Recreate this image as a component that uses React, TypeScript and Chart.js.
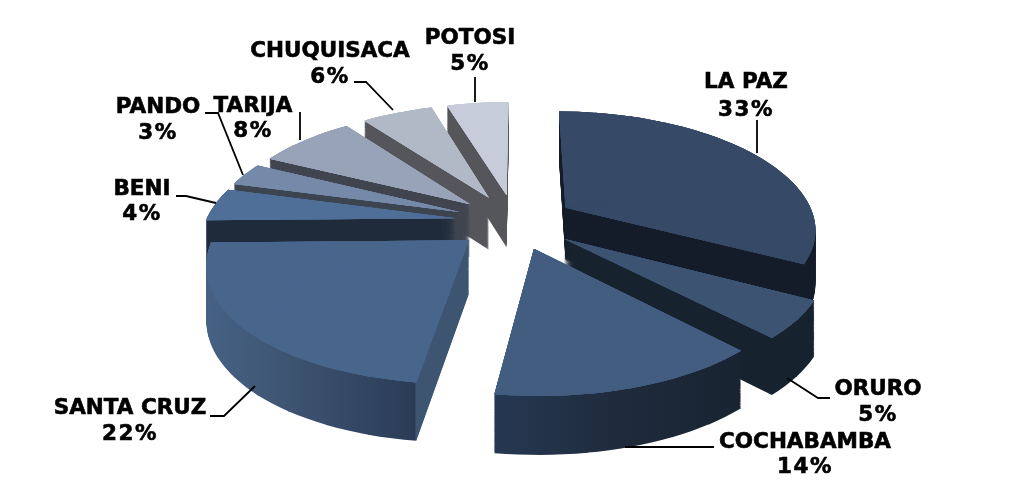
import React, { useEffect, useRef } from "react";
import { Chart, registerables } from "chart.js";

Chart.register(...registerables);

const categories = ["LA PAZ", "ORURO", "COCHABAMBA", "SANTA CRUZ", "BENI", "PANDO", "TARIJA", "CHUQUISACA", "POTOSI"];
// shares (the printed labels are these, rounded)
const shares = [32.8, 5.15, 14.2, 22.49, 4.49, 3.1, 7.5, 5.5, 4.77];
const percentLabels = ["33%", "5%", "14%", "22%", "4%", "3%", "8%", "6%", "5%"];

const topColors = ["#364a68", "#3c5372", "#425d80", "#48668c", "#4f6f98", "#7589a8", "#98a3b8", "#b1b9c6", "#c6ccd9"];
// wall colours: [screen x, colour]
const wallStops: [number, string][][] = [
  [[560, "#141c29"], [820, "#141c29"]],
  [[560, "#17222f"], [820, "#17222f"]],
  [[493, "#263852"], [620, "#1f2b3c"], [735, "#182431"]],
  [[208, "#466184"], [280, "#3e5674"], [415, "#2b3c56"], [416, "#3d5570"], [470, "#3d5570"]],
  [[205, "#1f2b3a"], [470, "#1f2b3a"]],
  [[230, "#3c4450"], [470, "#3c4450"]],
  [[260, "#3f444e"], [470, "#3f444e"]],
  [[360, "#55565b"], [490, "#55565b"]],
  [[440, "#55565a"], [510, "#55565a"]],
];
const drawOrder = [8, 7, 6, 5, 4, 0, 1, 3, 2];

// projection of the tilted pie
const CX = 515, CY = 221.5, AX = 250, BY = 115, PERSP_X = 0.17, PERSP_Y = 0.155, DEPTH = 53, EXPLODE = 0.24, STEP = (10 * Math.PI) / 180;
const ROTATION_DEG = 0.2;

// label layout: centre x, first line y, second line y
const labelPos: [number, number, number][] = [
  [746, 82, 110], [878, 389, 415], [805, 442, 467], [130, 408, 434], [142, 189, 214],
  [158, 107, 133], [253, 106, 131], [330, 51, 77], [470, 38, 64],
];
const leaders: [number, number][][] = [
  [[757, 120], [757, 153]],
  [[787, 378], [818, 398], [830, 398]],
  [[625, 447], [714, 447]],
  [[255, 386], [224, 416], [210, 416]],
  [[176, 196], [186, 196], [216, 203]],
  [[205, 113], [218, 113], [243, 175]],
  [[300, 112], [300, 140]],
  [[354, 82], [366, 82], [393, 110]],
  [[475, 77], [475, 102]],
];

function project(mx: number, my: number, h: number): [number, number] {
  const sX = 1 / (1 - PERSP_X * my);
  const sY = 1 / (1 - PERSP_Y * my);
  return [CX + AX * mx * sX, CY + BY * my * sY + h * Math.sqrt(sY)];
}

const pie3d = {
  id: "pie3d",
  beforeDatasetsDraw(chart: any) {
    const ctx: any = chart.ctx;
    const arcs = chart.getDatasetMeta(0).data;

    const drawWedge = (el: any, i: number, a0: number, a1: number, h: number, fill: string | null, opts: any) => {
      const mid = (el.$start + el.$end) / 2;
      const ox = EXPLODE * Math.cos(mid), oy = EXPLODE * Math.sin(mid);
      const r = el.outerRadius;
      const sx = [el.x, el.x + r * Math.cos(a0), el.x + r * Math.cos(a1)];
      const sy = [el.y, el.y + r * Math.sin(a0), el.y + r * Math.sin(a1)];
      const t = [
        project(ox, oy, h),
        project(ox + Math.cos(a0), oy + Math.sin(a0), h),
        project(ox + Math.cos(a1), oy + Math.sin(a1), h),
      ];
      const det = (sx[1] - sx[0]) * (sy[2] - sy[0]) - (sx[2] - sx[0]) * (sy[1] - sy[0]);
      const solve = (v: number[]) => {
        const p = ((v[1] - v[0]) * (sy[2] - sy[0]) - (v[2] - v[0]) * (sy[1] - sy[0])) / det;
        const q = ((sx[1] - sx[0]) * (v[2] - v[0]) - (sx[2] - sx[0]) * (v[1] - v[0])) / det;
        return [p, q, v[0] - p * sx[0] - q * sy[0]];
      };
      const [A, C, E] = solve(t.map((p) => p[0]));
      const [B, D, F] = solve(t.map((p) => p[1]));
      let style: any = fill;
      if (!style) {
        const stops = wallStops[i];
        const x0 = stops[0][0], x1 = stops[stops.length - 1][0];
        const n = A * A + C * C;
        const g = ctx.createLinearGradient((A * (x0 - E)) / n, (C * (x0 - E)) / n, (A * (x1 - E)) / n, (C * (x1 - E)) / n);
        stops.forEach(([x, c]) => g.addColorStop((x - x0) / (x1 - x0), c));
        style = g;
      }
      const saved = { s: el.startAngle, e: el.endAngle, c: el.circumference, o: el.options };
      el.startAngle = a0;
      el.endAngle = a1;
      el.circumference = a1 - a0;
      el.options = { ...opts, backgroundColor: style };
      ctx.save();
      ctx.transform(A, B, C, D, E, F);
      el.draw(ctx);
      ctx.restore();
      el.startAngle = saved.s;
      el.endAngle = saved.e;
      el.circumference = saved.c;
      el.options = saved.o;
    };

    const opts = {
      offset: 0, spacing: 0, borderWidth: 0, borderColor: "transparent", borderAlign: "center",
      borderRadius: 0, circular: true, selfJoin: false, borderJoinStyle: "round", borderDash: [], borderDashOffset: 0,
    };

    drawOrder.forEach((i) => {
      const el = arcs[i];
      el.$start = el.startAngle;
      el.$end = el.endAngle;
      const n = Math.max(1, Math.ceil((el.endAngle - el.startAngle) / STEP));
      const d = (el.endAngle - el.startAngle) / n;
      const overlap = 0.006;
      const wedges = (h: number, fill: string | null) => {
        for (let k = 0; k < n; k++) {
          const a0 = el.$start + k * d;
          const a1 = Math.min(el.$end, a0 + d + overlap);
          drawWedge(el, i, a0, a1, h, fill, opts);
        }
      };
      for (let h = DEPTH; h >= 1; h -= 1) wedges(h, null);
      for (let pass = 0; pass < 4; pass++) wedges(0, topColors[i]);
    });

    ctx.save();
    ctx.strokeStyle = "#000";
    ctx.lineWidth = 1.8;
    leaders.forEach((pts) => {
      ctx.beginPath();
      pts.forEach(([x, y], k) => (k ? ctx.lineTo(x, y) : ctx.moveTo(x, y)));
      ctx.stroke();
    });
    ctx.fillStyle = "#000";
    ctx.font = 'bold 21.5px "DejaVu Sans"';
    ctx.textAlign = "center";
    ctx.textBaseline = "middle";
    ctx.lineWidth = 0.6;
    categories.forEach((name, i) => {
      const [x, y1, y2] = labelPos[i];
      ctx.letterSpacing = "0px";
      ctx.fillText(name, x, y1 + 0.5);
      ctx.strokeText(name, x, y1 + 0.5);
      ctx.letterSpacing = "1.5px";
      ctx.fillText(percentLabels[i], x, y2 + 0.5);
      ctx.strokeText(percentLabels[i], x, y2 + 0.5);
    });
    ctx.letterSpacing = "0px";
    ctx.restore();
    return false;
  },
};

export default function App() {
  const ref = useRef<HTMLCanvasElement>(null);
  useEffect(() => {
    const chart = new Chart(ref.current!, {
      type: "pie",
      data: { labels: categories, datasets: [{ data: shares, backgroundColor: topColors, borderWidth: 0 }] },
      options: {
        responsive: false,
        animation: false,
        rotation: ROTATION_DEG,
        plugins: { legend: { display: false }, tooltip: { enabled: false } },
      },
      plugins: [pie3d],
    } as any);
    return () => chart.destroy();
  }, []);
  return (
    <div style={{ position: "fixed", left: 0, top: 0, width: 1019, height: 485, background: "#fff" }}>
      <canvas ref={ref} width={1019} height={485} style={{ display: "block" }} />
    </div>
  );
}
